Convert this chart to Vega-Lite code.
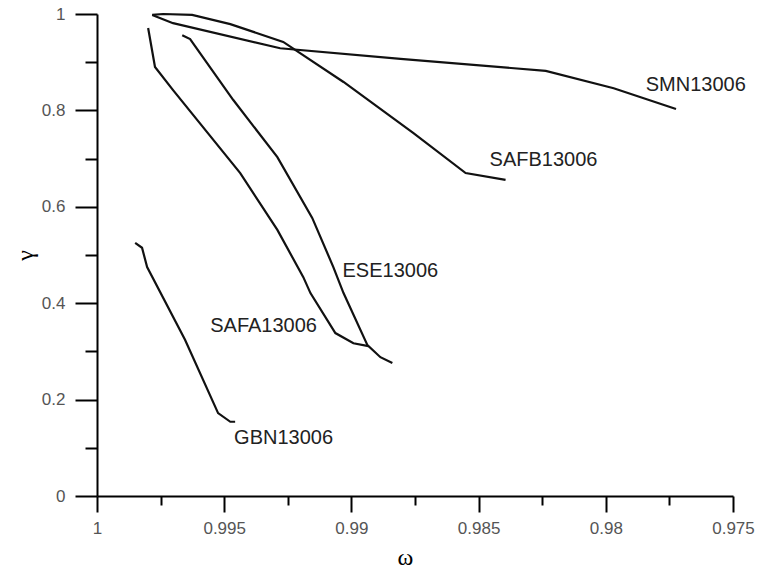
{
  "$schema": "https://vega.github.io/schema/vega-lite/v6.json",
  "width": 636,
  "height": 482,
  "autosize": "none",
  "padding": {"left": 97, "top": 14, "right": 24, "bottom": 75},
  "background": "white",
  "config": {
    "view": {"stroke": null},
    "axis": {
      "grid": false,
      "domainColor": "#000",
      "domainWidth": 2,
      "tickColor": "#000",
      "tickWidth": 2,
      "labelFont": "Liberation Sans",
      "labelFontSize": 17,
      "labelColor": "#555",
      "titleColor": "#000",
      "titleFontWeight": "normal",
      "labelOverlap": false,
      "labelFlush": false
    }
  },
  "datasets": {
    "lines": [
      {"s": "SMN13006", "i": 0, "w": 0.99783, "g": 0.998},
      {"s": "SMN13006", "i": 1, "w": 0.99701, "g": 0.981},
      {"s": "SMN13006", "i": 2, "w": 0.9928, "g": 0.929},
      {"s": "SMN13006", "i": 3, "w": 0.98807, "g": 0.907},
      {"s": "SMN13006", "i": 4, "w": 0.98236, "g": 0.882},
      {"s": "SMN13006", "i": 5, "w": 0.97969, "g": 0.846},
      {"s": "SMN13006", "i": 6, "w": 0.97724, "g": 0.803},
      {"s": "SAFB13006", "i": 0, "w": 0.99783, "g": 0.998},
      {"s": "SAFB13006", "i": 1, "w": 0.9974, "g": 1.0},
      {"s": "SAFB13006", "i": 2, "w": 0.99626, "g": 0.998},
      {"s": "SAFB13006", "i": 3, "w": 0.99476, "g": 0.979},
      {"s": "SAFB13006", "i": 4, "w": 0.99268, "g": 0.942},
      {"s": "SAFB13006", "i": 5, "w": 0.99031, "g": 0.859},
      {"s": "SAFB13006", "i": 6, "w": 0.98756, "g": 0.753},
      {"s": "SAFB13006", "i": 7, "w": 0.98551, "g": 0.67},
      {"s": "SAFB13006", "i": 8, "w": 0.98394, "g": 0.656},
      {"s": "ESE13006", "i": 0, "w": 0.99665, "g": 0.956},
      {"s": "ESE13006", "i": 1, "w": 0.99634, "g": 0.948},
      {"s": "ESE13006", "i": 2, "w": 0.99465, "g": 0.822},
      {"s": "ESE13006", "i": 3, "w": 0.99291, "g": 0.703},
      {"s": "ESE13006", "i": 4, "w": 0.99154, "g": 0.577},
      {"s": "ESE13006", "i": 5, "w": 0.99071, "g": 0.475},
      {"s": "ESE13006", "i": 6, "w": 0.99031, "g": 0.421},
      {"s": "ESE13006", "i": 7, "w": 0.98937, "g": 0.313},
      {"s": "ESE13006", "i": 8, "w": 0.98886, "g": 0.288},
      {"s": "ESE13006", "i": 9, "w": 0.98839, "g": 0.276},
      {"s": "SAFA13006", "i": 0, "w": 0.99799, "g": 0.971},
      {"s": "SAFA13006", "i": 1, "w": 0.99772, "g": 0.89},
      {"s": "SAFA13006", "i": 2, "w": 0.99701, "g": 0.842},
      {"s": "SAFA13006", "i": 3, "w": 0.99437, "g": 0.67},
      {"s": "SAFA13006", "i": 4, "w": 0.99291, "g": 0.552},
      {"s": "SAFA13006", "i": 5, "w": 0.99189, "g": 0.454},
      {"s": "SAFA13006", "i": 6, "w": 0.99161, "g": 0.421},
      {"s": "SAFA13006", "i": 7, "w": 0.99063, "g": 0.338},
      {"s": "SAFA13006", "i": 8, "w": 0.98992, "g": 0.317},
      {"s": "SAFA13006", "i": 9, "w": 0.98933, "g": 0.311},
      {"s": "GBN13006", "i": 0, "w": 0.9985, "g": 0.525},
      {"s": "GBN13006", "i": 1, "w": 0.99823, "g": 0.515},
      {"s": "GBN13006", "i": 2, "w": 0.99803, "g": 0.475},
      {"s": "GBN13006", "i": 3, "w": 0.99654, "g": 0.324},
      {"s": "GBN13006", "i": 4, "w": 0.99524, "g": 0.172},
      {"s": "GBN13006", "i": 5, "w": 0.99476, "g": 0.154},
      {"s": "GBN13006", "i": 6, "w": 0.99457, "g": 0.154}
    ],
    "labels": [
      {"t": "SMN13006", "w": 0.97843, "g": 0.853},
      {"t": "SAFB13006", "w": 0.98457, "g": 0.697},
      {"t": "ESE13006", "w": 0.99035, "g": 0.467},
      {"t": "SAFA13006", "w": 0.99555, "g": 0.353},
      {"t": "GBN13006", "w": 0.99461, "g": 0.12}
    ]
  },
  "layer": [
    {
      "data": {"name": "lines"},
      "mark": {"type": "line", "color": "#111", "strokeWidth": 2.2},
      "encoding": {
        "x": {
          "field": "w",
          "type": "quantitative",
          "scale": {"domain": [0.975, 1], "reverse": true, "nice": false, "zero": false},
          "axis": {
            "values": [1, 0.9975, 0.995, 0.9925, 0.99, 0.9875, 0.985, 0.9825, 0.98, 0.9775, 0.975],
            "format": "~g",
            "labelExpr": "round(datum.value*1000)%5===0 ? datum.label : ''",
            "tickSize": {"condition": {"test": "round(datum.value*1000)%5===0", "value": 16}, "value": 9},
            "labelPadding": 8,
            "title": "ω",
            "titleFont": "Liberation Serif",
            "titleFontSize": 24,
            "titleX": 308,
            "titleY": 61,
            "titleBaseline": "middle",
            "titleAlign": "center"
          }
        },
        "y": {
          "field": "g",
          "type": "quantitative",
          "scale": {"domain": [0, 1], "nice": false, "zero": false},
          "axis": {
            "values": [0, 0.1, 0.2, 0.3, 0.4, 0.5, 0.6, 0.7, 0.8, 0.9, 1],
            "format": "~g",
            "labelExpr": "round(datum.value*10)%2===0 ? datum.label : ''",
            "tickSize": {"condition": {"test": "round(datum.value*10)%2===0", "value": 22}, "value": 12},
            "labelPadding": 10,
            "title": "γ",
            "titleFont": "Liberation Serif",
            "titleFontSize": 24,
            "titleX": -72,
            "titleY": 241,
            "titleBaseline": "middle",
            "titleAlign": "center"
          }
        },
        "detail": {"field": "s"},
        "order": {"field": "i"}
      }
    },
    {
      "data": {"name": "labels"},
      "mark": {"type": "text", "align": "left", "baseline": "middle", "font": "Liberation Sans", "fontSize": 20, "color": "#222"},
      "encoding": {
        "x": {"field": "w", "type": "quantitative"},
        "y": {"field": "g", "type": "quantitative"},
        "text": {"field": "t"}
      }
    }
  ]
}
